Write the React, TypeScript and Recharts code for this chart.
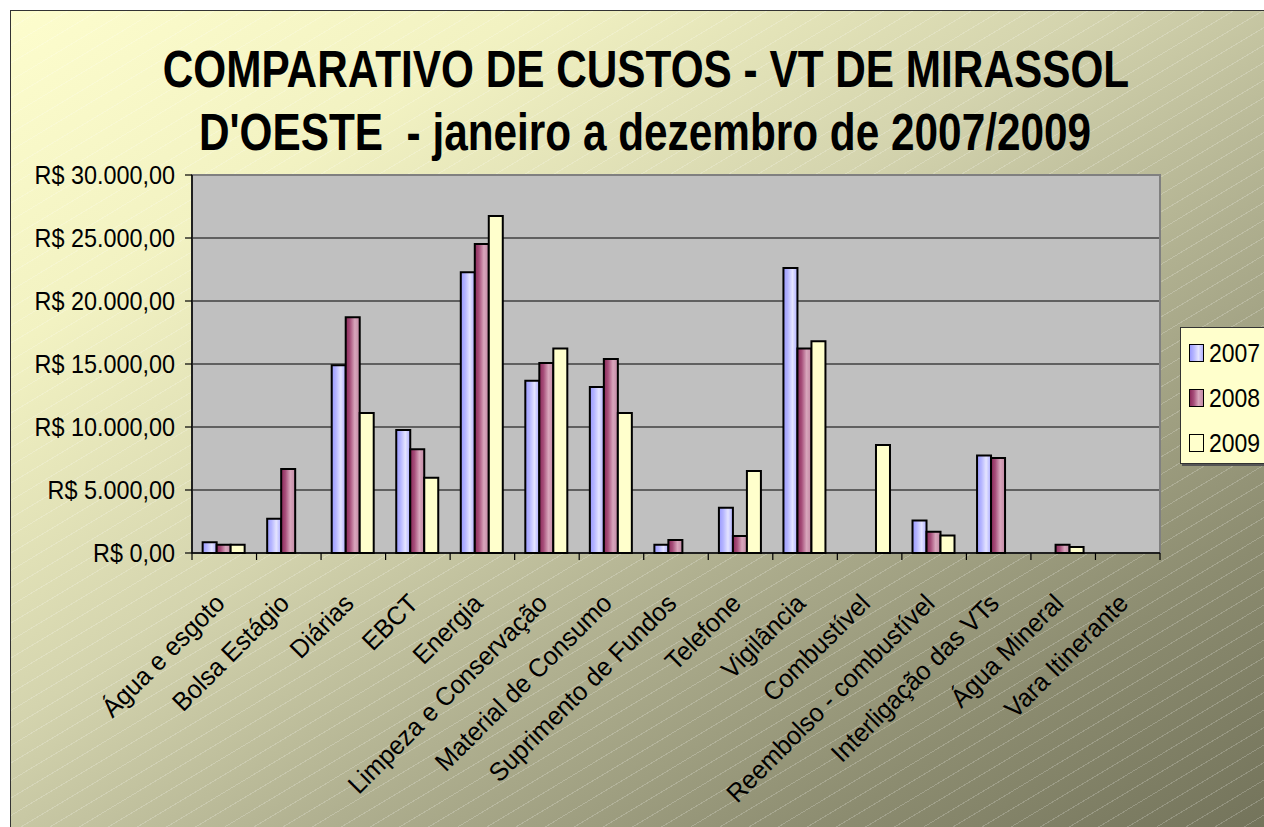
import React from "react";
import { BarChart, Bar, XAxis, YAxis, CartesianGrid, Legend, ReferenceArea } from "recharts";

const categories = [
  "Água e esgoto",
  "Bolsa Estágio",
  "Diárias",
  "EBCT",
  "Energia",
  "Limpeza e Conservação",
  "Material de Consumo",
  "Suprimento de Fundos",
  "Telefone",
  "Vigilância",
  "Combustível",
  "Reembolso - combustível",
  "Interligação das VTs",
  "Água Mineral",
  "Vara Itinerante",
];

const values2007 = [850, 2720, 14900, 9760, 22280, 13680, 13180, 660, 3600, 22620, null, 2570, 7730, null, null];
const values2008 = [660, 6670, 18710, 8230, 24520, 15080, 15400, 1030, 1350, 16240, null, 1690, 7540, 660, null];
const values2009 = [660, null, 11110, 5980, 26750, 16240, 11110, null, 6510, 16800, 8570, 1380, null, 480, null];

const seriesNames = ["2007", "2008", "2009"];
const yTicks = [0, 5000, 10000, 15000, 20000, 25000, 30000];
const yTickLabels = ["R$ 0,00", "R$ 5.000,00", "R$ 10.000,00", "R$ 15.000,00", "R$ 20.000,00", "R$ 25.000,00", "R$ 30.000,00"];

const titleLine1 = "COMPARATIVO DE CUSTOS - VT DE MIRASSOL";
const titleLine2 = "D'OESTE  - janeiro a dezembro de 2007/2009";

const data = categories.map((c, i) => ({
  name: c,
  y2007: values2007[i],
  y2008: values2008[i],
  y2009: values2009[i],
}));

const W = 1264;
const H = 827;
const MARGIN = { top: 175, right: 104, left: 0, bottom: 0 };
const Y_AXIS_W = 192;
const X_AXIS_H = H - 553;
const PLOT_W = W - MARGIN.right - MARGIN.left - Y_AXIS_W;
const HALF_BAND = PLOT_W / categories.length / 2;

const FONT = "'Liberation Sans', Arial, sans-serif";

const YTick = (props: any) => {
  const { x, y, payload } = props;
  const idx = yTicks.indexOf(payload.value);
  const label = idx >= 0 ? yTickLabels[idx] : String(payload.value);
  return (
    <g transform={`translate(${x},${y}) scale(0.9,1)`}>
      <text x={0} y={0} dy="0.36em" textAnchor="end" fontSize={26} fontFamily={FONT} fill="#000">
        {label}
      </text>
    </g>
  );
};

const XTick = (props: any) => {
  const { x, y, payload, index } = props;
  return (
    <g>
      <line x1={x - HALF_BAND} y1={y} x2={x - HALF_BAND} y2={y + 7} stroke="#000" strokeWidth={1.2} />
      {index === categories.length - 1 && (
        <line x1={x + HALF_BAND} y1={y} x2={x + HALF_BAND} y2={y + 7} stroke="#000" strokeWidth={1.2} />
      )}
      <g transform={`translate(${x + 2},${y + 52}) rotate(-45) scale(0.96,1)`}>
        <text x={0} y={0} textAnchor="end" fontSize={26} fontFamily={FONT} fill="#000">
          {payload.value}
        </text>
      </g>
    </g>
  );
};

const swatchBg: Record<string, string> = {
  "2007": "linear-gradient(to right, #9a9aff 0%, #b8b8ff 30%, #e4e4ff 65%, #b0b0ff 100%)",
  "2008": "linear-gradient(to right, #8e2a5c 0%, #a8507c 30%, #d8a6bc 65%, #c48aa6 100%)",
  "2009": "#ffffcc",
};

const LegendContent = () => (
  <div
    style={{
      width: 110,
      height: 137,
      background: "#ffffcc",
      border: "1.5px solid #333",
      boxShadow: "2px 2px 0 #555",
      boxSizing: "border-box",
      position: "relative",
      fontFamily: FONT,
    }}
  >
    {seriesNames.map((s, i) => (
      <div key={s} style={{ position: "absolute", left: 8, top: 15 + i * 45, height: 20, display: "flex", alignItems: "center" }}>
        <div style={{ width: 13, height: 16, border: "1.5px solid #000", background: swatchBg[s] }} />
        <span
          style={{
            marginLeft: 5,
            fontSize: 25,
            lineHeight: "20px",
            color: "#000",
            display: "inline-block",
            transform: "scaleX(0.92)",
            transformOrigin: "left center",
          }}
        >
          {s}
        </span>
      </div>
    ))}
  </div>
);

export default function App() {
  return (
    <div style={{ position: "absolute", left: 0, top: 0, width: W, height: H, overflow: "hidden", background: "#fff" }}>
      <div
        style={{
          position: "absolute",
          left: 10,
          top: 10,
          width: W + 20,
          height: H + 20,
          borderLeft: "1.5px solid #333",
          borderTop: "1.5px solid #333",
          background:
            "linear-gradient(to bottom right, #fdfdcd 0%, #f2f2c2 20%, #d4d4ae 42%, #b0b090 60%, #8c8c70 80%, #6f6f57 100%)",
        }}
      />
      <div
        style={{
          position: "absolute",
          left: 11,
          top: 11,
          width: W + 20,
          height: H + 20,
          background:
            "repeating-linear-gradient(149deg, rgba(255,255,255,0) 0px, rgba(255,255,255,0) 14px, rgba(255,255,255,0.2) 14px, rgba(255,255,255,0.2) 15px)",
        }}
      />
      <div style={{ position: "absolute", left: 0, top: 0 }}>
        <BarChart
          width={W}
          height={H}
          data={data}
          margin={MARGIN}
          barCategoryGap="16.5%"
          barGap={0}
        >
          <defs>
            <linearGradient id="g2007" x1="0" y1="0" x2="1" y2="0">
              <stop offset="0%" stopColor="#9a9aff" />
              <stop offset="30%" stopColor="#b4b4ff" />
              <stop offset="65%" stopColor="#e4e4ff" />
              <stop offset="100%" stopColor="#acacff" />
            </linearGradient>
            <linearGradient id="g2008" x1="0" y1="0" x2="1" y2="0">
              <stop offset="0%" stopColor="#8a2858" />
              <stop offset="30%" stopColor="#a64e7a" />
              <stop offset="65%" stopColor="#d8a6bc" />
              <stop offset="100%" stopColor="#c288a4" />
            </linearGradient>
          </defs>
          <CartesianGrid vertical={false} stroke="#000" strokeWidth={1.2} fill="#c0c0c0" fillOpacity={1} />
          <ReferenceArea y1={0} y2={30000} fill="none" stroke="#808080" strokeWidth={2} ifOverflow="visible" />
          <XAxis
            dataKey="name"
            interval={0}
            height={X_AXIS_H}
            tickLine={false}
            tickSize={0}
            tickMargin={0}
            axisLine={{ stroke: "#000", strokeWidth: 1.5 }}
            tick={<XTick />}
          />
          <YAxis
            width={Y_AXIS_W}
            domain={[0, 30000]}
            ticks={yTicks}
            interval={0}
            tickSize={7}
            tickMargin={10}
            tickLine={{ stroke: "#000", strokeWidth: 1.2 }}
            axisLine={{ stroke: "#000", strokeWidth: 1.5 }}
            tick={<YTick />}
          />
          <Legend
            layout="horizontal"
            verticalAlign="middle"
            align="center"
            content={<LegendContent />}
            wrapperStyle={{ position: "absolute", left: 1180, top: 327, width: 110, height: 137 }}
          />
          <Bar dataKey="y2007" name="2007" fill="url(#g2007)" stroke="#000" strokeWidth={2} isAnimationActive={false} />
          <Bar dataKey="y2008" name="2008" fill="url(#g2008)" stroke="#000" strokeWidth={2} isAnimationActive={false} />
          <Bar dataKey="y2009" name="2009" fill="#ffffcc" stroke="#000" strokeWidth={2} isAnimationActive={false} />
        </BarChart>
      </div>
      <svg width={W} height={H} style={{ position: "absolute", left: 0, top: 0, pointerEvents: "none" }}>
        <g transform="translate(646,87) scale(0.814,1)">
          <text x={0} y={0} textAnchor="middle" fontSize={52} fontWeight="bold" fontFamily={FONT} fill="#000">
            {titleLine1}
          </text>
        </g>
        <g transform="translate(645,150) scale(0.814,1)">
          <text x={0} y={0} textAnchor="middle" fontSize={52} fontWeight="bold" fontFamily={FONT} fill="#000" style={{ whiteSpace: "pre" }}>
            {titleLine2}
          </text>
        </g>
      </svg>
    </div>
  );
}
